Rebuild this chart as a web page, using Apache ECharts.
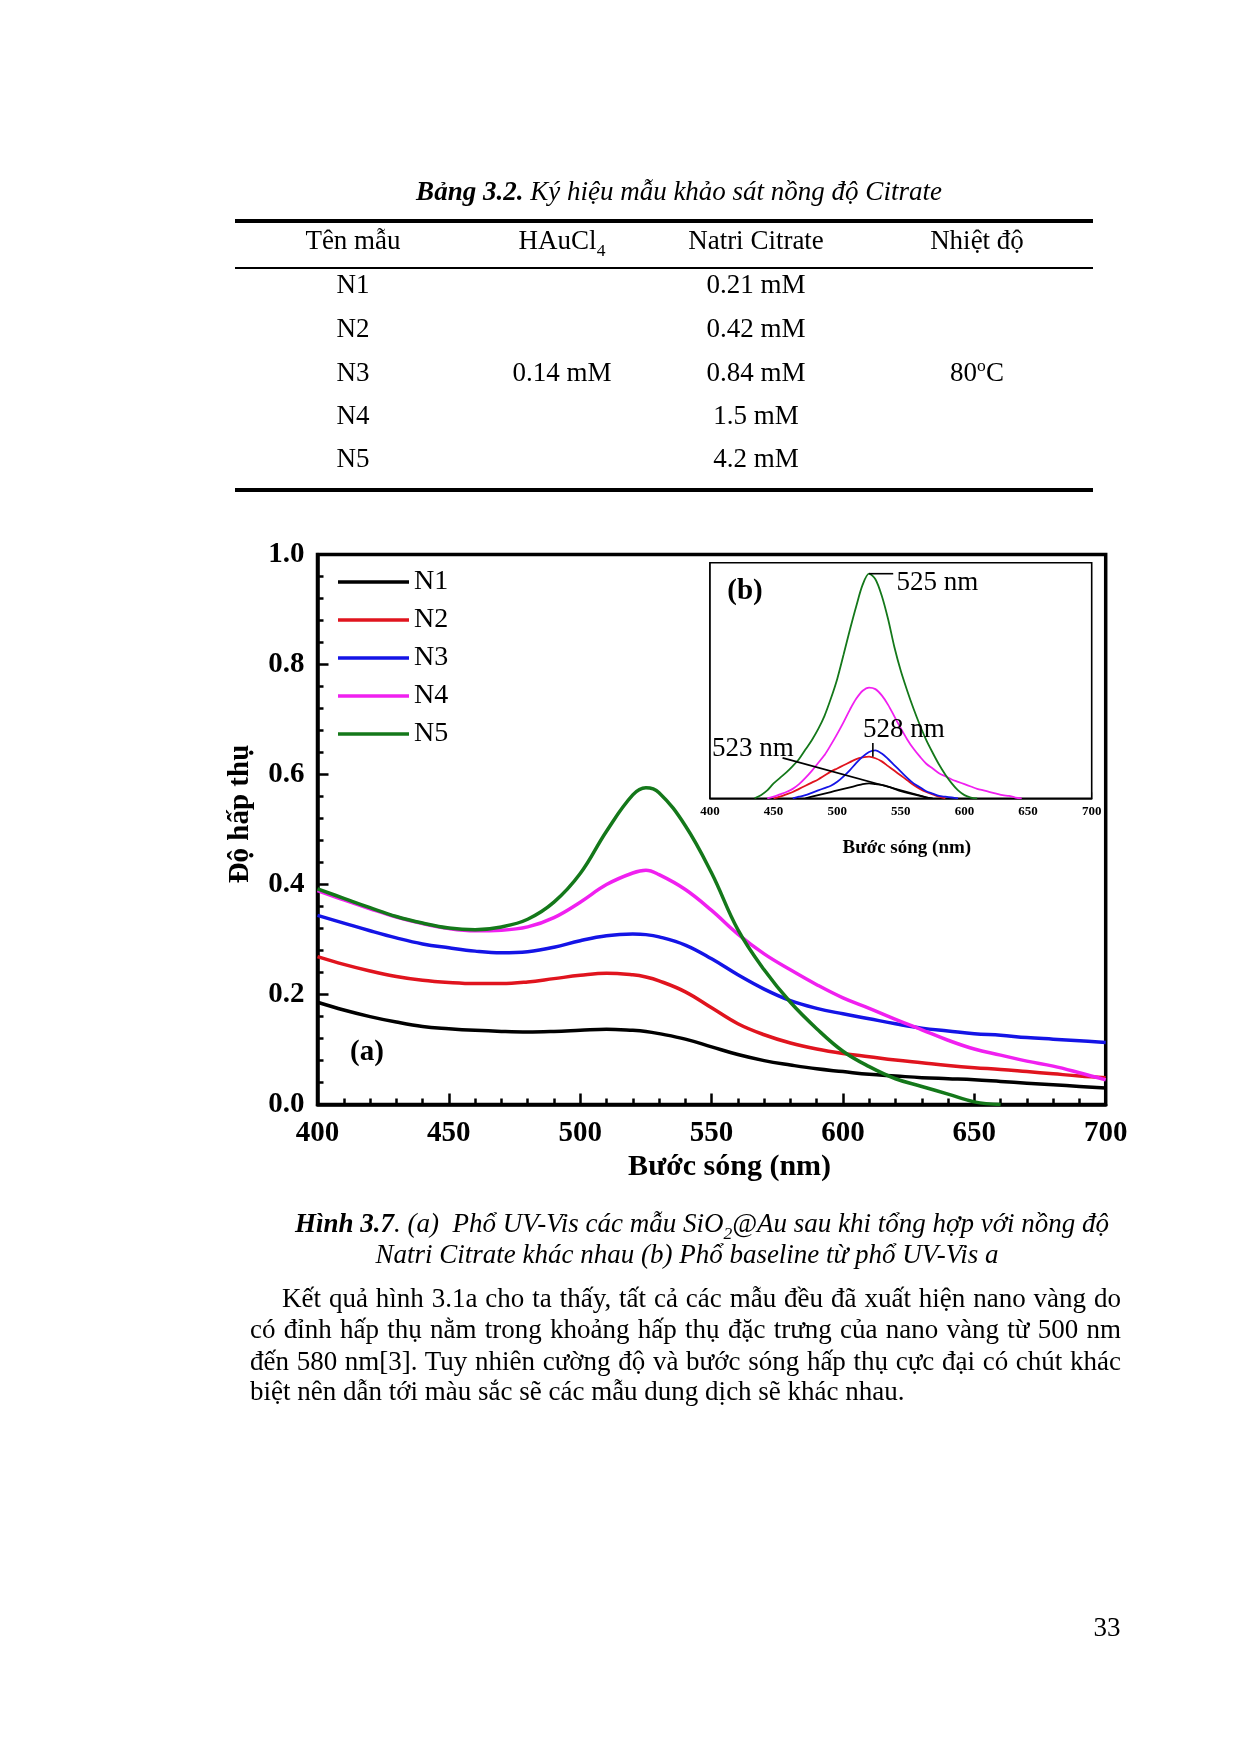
<!DOCTYPE html>
<html>
<head>
<meta charset="utf-8">
<script src="https://cdn.jsdelivr.net/npm/echarts@6/dist/echarts.min.js"></script>
<style>
html,body{margin:0;padding:0;background:#fff;}
#page{position:relative;width:1241px;height:1753px;overflow:hidden;font-family:'Liberation Serif','Times New Roman',serif;color:#000;background:#fff;}
#chart{position:absolute;left:0;top:0;width:1241px;height:1753px;}
.c{position:absolute;transform:translate(-50%,-50%);white-space:nowrap;font-size:27px;line-height:1.1;z-index:2;}
.rule{position:absolute;background:#000;left:235px;width:858px;z-index:2;}
.p{position:absolute;left:250px;width:871px;font-size:27px;white-space:nowrap;text-align:justify;text-align-last:justify;line-height:31px;z-index:2;}
sub,sup{font-size:65%;line-height:0;}
</style>
</head>
<body>
<div id="page">
  <div id="chart"></div>

  <div class="c" style="left:679px;top:192px;font-style:italic;"><b>Bảng 3.2.</b> Ký hiệu mẫu khảo sát nồng độ Citrate</div>
  <div class="rule" style="top:219px;height:4px;"></div>
  <div class="c" style="left:353px;top:241px;">Tên mẫu</div>
  <div class="c" style="left:562px;top:241px;">HAuCl<sub>4</sub></div>
  <div class="c" style="left:756px;top:241px;">Natri Citrate</div>
  <div class="c" style="left:977px;top:241px;">Nhiệt độ</div>
  <div class="rule" style="top:267px;height:2px;"></div>
  <div class="c" style="left:353px;top:285px;">N1</div>
  <div class="c" style="left:353px;top:329px;">N2</div>
  <div class="c" style="left:353px;top:373px;">N3</div>
  <div class="c" style="left:353px;top:416px;">N4</div>
  <div class="c" style="left:353px;top:459px;">N5</div>
  <div class="c" style="left:562px;top:373px;">0.14 mM</div>
  <div class="c" style="left:756px;top:285px;">0.21 mM</div>
  <div class="c" style="left:756px;top:329px;">0.42 mM</div>
  <div class="c" style="left:756px;top:373px;">0.84 mM</div>
  <div class="c" style="left:756px;top:416px;">1.5 mM</div>
  <div class="c" style="left:756px;top:459px;">4.2 mM</div>
  <div class="c" style="left:977px;top:373px;">80<sup>o</sup>C</div>
  <div class="rule" style="top:488px;height:4px;"></div>

  <div class="c" style="left:702px;top:1224px;font-style:italic;"><b>Hình 3.7</b>. (a)&nbsp; Phổ UV-Vis các mẫu SiO<sub>2</sub>@Au sau khi tổng hợp với nồng độ</div>
  <div class="c" style="left:687px;top:1255px;font-style:italic;">Natri Citrate khác nhau (b) Phổ baseline từ phổ UV-Vis a</div>

  <div class="p" style="top:1283px;left:282px;width:839px;">Kết quả hình 3.1a cho ta thấy, tất cả các mẫu đều đã xuất hiện nano vàng do</div>
  <div class="p" style="top:1314px;">có đỉnh hấp thụ nằm trong khoảng hấp thụ đặc trưng của nano vàng từ 500 nm</div>
  <div class="p" style="top:1346px;">đến 580 nm[3]. Tuy nhiên cường độ và bước sóng hấp thụ cực đại có chút khác</div>
  <div class="p" style="top:1376px;text-align-last:left;">biệt nên dẫn tới màu sắc sẽ các mẫu dung dịch sẽ khác nhau.</div>

  <div class="c" style="left:1107px;top:1628px;">33</div>
</div>

<script>
// ---------- Main spectra (a) ----------
const wavelengths = [400,410,420,430,440,450,460,470,480,490,500,510,520,525,530,540,550,560,570,580,590,600,610,620,630,640,650,660,670,680,690,700];
const absN1 = [0.186,0.172,0.160,0.150,0.142,0.138,0.135,0.133,0.132,0.133,0.135,0.137,0.135,0.133,0.129,0.119,0.105,0.091,0.080,0.072,0.065,0.060,0.055,0.052,0.049,0.047,0.045,0.042,0.039,0.036,0.033,0.030];
const absN2 = [0.269,0.255,0.243,0.233,0.226,0.222,0.220,0.220,0.223,0.229,0.235,0.239,0.236,0.232,0.225,0.205,0.176,0.147,0.127,0.112,0.101,0.093,0.087,0.081,0.076,0.071,0.067,0.064,0.060,0.056,0.052,0.049];
const absN3 = [0.344,0.330,0.316,0.303,0.292,0.285,0.279,0.276,0.278,0.286,0.298,0.307,0.310,0.309,0.305,0.290,0.265,0.236,0.210,0.189,0.175,0.165,0.156,0.147,0.139,0.134,0.129,0.126,0.122,0.119,0.116,0.113];
const absN4 = [0.389,0.372,0.356,0.341,0.329,0.320,0.316,0.317,0.323,0.340,0.368,0.400,0.421,0.426,0.418,0.391,0.353,0.310,0.274,0.245,0.218,0.194,0.175,0.155,0.136,0.117,0.101,0.090,0.079,0.070,0.058,0.045];
const absN5 = [0.392,0.375,0.358,0.342,0.330,0.321,0.318,0.323,0.337,0.368,0.420,0.497,0.563,0.576,0.567,0.507,0.421,0.318,0.245,0.186,0.138,0.097,0.069,0.047,0.033,0.019,0.005,0.000,null,null,null,null];

// ---------- Baseline-corrected spectra (b) ----------
const insetWavelengths = [430,435,440,445,450,455,460,465,470,475,480,485,490,495,500,505,510,515,520,525,530,535,540,545,550,555,560,565,570,575,580,585,590,595,600,605,610,615,620,625,630,635,640,645,650];
const baseN1 = [null,null,null,null,null,null,null,null,null,0.000,0.002,0.004,0.006,0.008,0.010,0.012,0.014,0.016,0.018,0.019,0.018,0.017,0.015,0.012,0.009,0.007,0.005,0.003,0.001,0.000,null,null,null,null,null,null,null,null,null,null,null,null,null,null,null];
const baseN2 = [null,null,null,null,0.000,0.002,0.005,0.008,0.012,0.016,0.020,0.024,0.029,0.034,0.038,0.042,0.046,0.050,0.052,0.053,0.051,0.047,0.041,0.035,0.029,0.023,0.017,0.012,0.008,0.005,0.002,0.000,null,null,null,null,null,null,null,null,null,null,null,null,null];
const baseN3 = [null,null,null,null,null,null,null,0.000,0.002,0.004,0.007,0.010,0.013,0.016,0.021,0.028,0.036,0.045,0.053,0.059,0.061,0.057,0.050,0.042,0.034,0.026,0.019,0.014,0.009,0.006,0.003,0.002,0.001,0.000,null,null,null,null,null,null,null,null,null,null,null];
const baseN4 = [null,null,null,0.000,0.002,0.005,0.008,0.012,0.018,0.026,0.035,0.045,0.055,0.068,0.082,0.097,0.113,0.127,0.137,0.141,0.139,0.131,0.119,0.104,0.089,0.075,0.063,0.053,0.044,0.038,0.032,0.028,0.024,0.021,0.018,0.015,0.012,0.010,0.008,0.006,0.004,0.003,0.001,0.000,null];
const baseN5 = [null,0.000,0.004,0.010,0.019,0.026,0.033,0.041,0.050,0.062,0.074,0.088,0.105,0.127,0.152,0.183,0.215,0.245,0.272,0.286,0.279,0.258,0.228,0.192,0.162,0.137,0.114,0.093,0.074,0.058,0.043,0.030,0.019,0.010,0.004,0.001,0.000,null,null,null,null,null,null,null,null];

const sampleNames = ['N1','N2','N3','N4','N5'];
const mainValues = [absN1, absN2, absN3, absN4, absN5];
const insetValues = [baseN1, baseN2, baseN3, baseN4, baseN5];

// annotation anchors in inset data space (wavelength, absorbance)
const peakLabels = ['525 nm','528 nm','523 nm'];
const peakLabelAt = [[546.5,0.274],[520.3,0.087],[401.6,0.063]];
const leaderLines = [[[525,0.286],[544,0.286]],[[528,0.0705],[528,0.053]],[[457,0.0515],[573,0]]];

const colors = ['#000000','#e0141e','#1414e6','#f020f0','#14781a'];
const FONT = "'Liberation Serif','Times New Roman',serif";

function pairs(xs, ys){ return xs.map((x,i)=>[x, ys[i]]); }

const chart = echarts.init(document.getElementById('chart'), null, {renderer:'canvas'});

const series = [];
sampleNames.forEach((n,i)=>{
  series.push({
    name:n, type:'line', xAxisIndex:0, yAxisIndex:0,
    data:pairs(wavelengths, mainValues[i]),
    showSymbol:false, smooth:0.4, connectNulls:false,
    color:colors[i], lineStyle:{width:3.5, color:colors[i]}, z:3
  });
});
sampleNames.forEach((n,i)=>{
  series.push({
    name:n+' (b)', type:'line', xAxisIndex:1, yAxisIndex:1,
    data:pairs(insetWavelengths, insetValues[i]),
    showSymbol:false, smooth:0.3, connectNulls:false,
    color:colors[i], lineStyle:{width:1.8, color:colors[i]}, z:4
  });
});

const option = {
  animation:false,
  backgroundColor:'transparent',
  grid:[
    {left:317.5, top:554.5, width:788.2, height:550.1, show:true, borderColor:'#000', borderWidth:3.5, backgroundColor:'transparent'},
    {left:710, top:562.7, width:381.7, height:235.6, show:true, borderColor:'#000', borderWidth:1.6, backgroundColor:'#fff', z:2}
  ],
  xAxis:[
    {gridIndex:0, type:'value', min:400, max:700, interval:50,
     axisLine:{onZero:false, lineStyle:{color:'#000', width:3.5}},
     axisTick:{inside:true, length:11, lineStyle:{color:'#000', width:2.5}},
     minorTick:{show:true, splitNumber:5, length:6, lineStyle:{color:'#000', width:2.5}},
     splitLine:{show:false},
     axisLabel:{margin:14, color:'#000', fontFamily:FONT, fontWeight:'bold', fontSize:29},
     name:'Bước sóng (nm)', nameLocation:'middle', nameGap:48,
     nameTextStyle:{color:'#000', fontFamily:FONT, fontWeight:'bold', fontSize:30, padding:[0,0,0,36]}},
    {gridIndex:1, type:'value', min:400, max:700, interval:50,
     axisLine:{onZero:false, lineStyle:{color:'#000', width:1.6}},
     axisTick:{inside:true, length:6, lineStyle:{color:'#000', width:1.4}},
     minorTick:{show:true, splitNumber:2, length:4, lineStyle:{color:'#000', width:1.2}},
     splitLine:{show:false},
     axisLabel:{margin:7, color:'#000', fontFamily:FONT, fontWeight:'bold', fontSize:13},
     name:'Bước sóng (nm)', nameLocation:'middle', nameGap:40,
     nameTextStyle:{color:'#000', fontFamily:FONT, fontWeight:'bold', fontSize:19, padding:[0,0,0,12]}}
  ],
  yAxis:[
    {gridIndex:0, type:'value', min:0, max:1, interval:0.2,
     axisLine:{onZero:false, lineStyle:{color:'#000', width:3.5}},
     axisTick:{inside:true, length:11, lineStyle:{color:'#000', width:2.5}},
     minorTick:{show:true, splitNumber:5, length:6, lineStyle:{color:'#000', width:2.5}},
     splitLine:{show:false},
     axisLabel:{margin:13, color:'#000', fontFamily:FONT, fontWeight:'bold', fontSize:29, formatter:v=>v.toFixed(1)},
     name:'Độ hấp thụ', nameLocation:'middle', nameGap:62,
     nameTextStyle:{color:'#000', fontFamily:FONT, fontWeight:'bold', fontSize:29, padding:[0,0,0,31]}},
    {gridIndex:1, type:'value', min:0, max:0.3,
     axisLine:{show:true, onZero:false, lineStyle:{color:'#000', width:1.6}},
     axisTick:{show:false}, axisLabel:{show:false}, splitLine:{show:false}}
  ],
  legend:{
    data:sampleNames, orient:'vertical', left:338, top:568, padding:0,
    itemWidth:71, itemHeight:3.5, itemGap:10, icon:'rect',
    textStyle:{color:'#000', fontFamily:FONT, fontSize:28, lineHeight:28},
    selectedMode:false
  },
  series:series
};
chart.setOption(option);

// annotations anchored through the inset's own scales
const g = [];
peakLabels.forEach((t,i)=>{
  const p = chart.convertToPixel({gridIndex:1}, peakLabelAt[i]);
  g.push({type:'text', z:10, style:{text:t, x:p[0], y:p[1], fill:'#000', font:'27px '+FONT, textAlign:'left', textVerticalAlign:'middle', align:'left', verticalAlign:'middle'}});
});
leaderLines.forEach(l=>{
  const a = chart.convertToPixel({gridIndex:1}, l[0]);
  const b = chart.convertToPixel({gridIndex:1}, l[1]);
  g.push({type:'line', z:10, shape:{x1:a[0], y1:a[1], x2:b[0], y2:b[1]}, style:{stroke:'#000', lineWidth:1.6}});
});
g.push({type:'text', z:10, style:{text:'(a)', x:367, y:1053, fill:'#000', font:'bold 29px '+FONT, textAlign:'center', textVerticalAlign:'middle', align:'center', verticalAlign:'middle'}});
g.push({type:'text', z:10, style:{text:'(b)', x:745, y:592, fill:'#000', font:'bold 29px '+FONT, textAlign:'center', textVerticalAlign:'middle', align:'center', verticalAlign:'middle'}});
chart.setOption({graphic:g});
</script>
</body>
</html>
